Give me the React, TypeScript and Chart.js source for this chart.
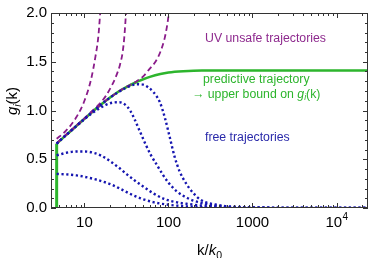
import React, { useEffect, useRef } from "react";
import { Chart, registerables } from "chart.js";

Chart.register(...registerables);

// ---- axes ----
const X_MIN = 4;
const X_MAX = 23700;
const X_TICKS = [10, 100, 1000, 10000];
const Y_MIN = 0;
const Y_MAX = 2;
const Y_TICKS = [0, 0.5, 1, 1.5, 2];

// ---- data: k/k0 and g_i(k) ----
const startK = [4.67, 4.67];
const startG = [0, 0.66];

const predictiveK = [4.67, 6, 8, 10, 12, 15, 20, 25, 30, 40, 50, 60, 80, 100, 150, 250, 23700];
const predictiveG = [0.66, 0.745, 0.84, 0.915, 0.975, 1.045, 1.13, 1.19, 1.23, 1.285, 1.32, 1.345, 1.375, 1.39, 1.403, 1.41, 1.41];

const unsafe1K = [4.67, 6, 8, 10, 12, 13.5, 14.6, 15.4, 16];
const unsafe1G = [0.71, 0.79, 0.93, 1.1, 1.32, 1.55, 1.75, 2.0, 2.2];

const unsafe2K = [4.67, 6, 8, 10, 12, 15, 18, 21, 24, 26.5, 28.5, 29.8, 31, 31.6];
const unsafe2G = [0.665, 0.75, 0.845, 0.92, 0.985, 1.065, 1.15, 1.25, 1.36, 1.47, 1.6, 1.75, 1.96, 2.1];

const unsafe3K = [4.67, 6, 8, 10, 12, 15, 20, 25, 30, 40, 50, 60, 70, 80, 90, 95, 100, 103];
const unsafe3G = [0.66, 0.745, 0.84, 0.915, 0.975, 1.045, 1.13, 1.19, 1.232, 1.29, 1.35, 1.43, 1.5, 1.6, 1.74, 1.84, 1.97, 2.1];

const free1K = [4.67, 6, 8, 10, 14, 21, 27, 36, 50, 66, 100, 164, 300, 1000, 23700];
const free1G = [0.35, 0.345, 0.335, 0.32, 0.29, 0.24, 0.195, 0.14, 0.09, 0.06, 0.033, 0.017, 0.006, 0.001, 0];

const free2K = [4.67, 6, 8, 10, 13, 16, 21, 26, 32, 40, 50, 66, 91, 130, 164, 250, 410, 1000, 23700];
const free2G = [0.54, 0.565, 0.58, 0.58, 0.565, 0.535, 0.47, 0.41, 0.345, 0.28, 0.22, 0.15, 0.09, 0.056, 0.043, 0.025, 0.012, 0.003, 0];

const free3K = [4.67, 6, 8, 10, 12, 15, 18, 22, 26, 30, 35, 40, 46, 53, 62, 73, 86, 100, 126, 170, 238, 400, 1000, 23700];
const free3G = [0.66, 0.745, 0.84, 0.91, 0.965, 1.02, 1.058, 1.082, 1.085, 1.065, 1.0, 0.9, 0.78, 0.66, 0.54, 0.44, 0.34, 0.26, 0.17, 0.1, 0.055, 0.02, 0.003, 0];

const free4K = [4.67, 6, 8, 10, 12, 15, 20, 25, 30, 35, 42, 50, 58, 66, 79, 91, 104, 118, 135, 160, 190, 240, 400, 800, 2000, 23700];
const free4G = [0.66, 0.745, 0.84, 0.915, 0.975, 1.045, 1.13, 1.185, 1.225, 1.252, 1.27, 1.265, 1.235, 1.19, 1.085, 0.92, 0.72, 0.53, 0.38, 0.26, 0.17, 0.085, 0.03, 0.008, 0.001, 0];

// ---- styling ----
const FONT = '"Liberation Sans", Arial, Helvetica, sans-serif';
const GREEN = "#2db52d";
const PURPLE = "#8a1c8a";
const BLUE = "#1515b0";
const TEXT_PURPLE = "#8e2a8e";
const TEXT_BLUE = "#2a2aaa";

const pts = (ks: number[], gs: number[]) => ks.map((k, i) => ({ x: k, y: gs[i] }));

function drawRich(ctx: any, parts: any[], x: number, y: number, align: string) {
  let total = 0;
  for (const p of parts) {
    ctx.font = `${p.italic ? "italic " : ""}${p.size}px ${FONT}`;
    p.w = ctx.measureText(p.t).width;
    total += p.w;
  }
  let cx = align === "center" ? x - total / 2 : x;
  ctx.textAlign = "left";
  for (const p of parts) {
    ctx.font = `${p.italic ? "italic " : ""}${p.size}px ${FONT}`;
    ctx.fillText(p.t, cx, y + (p.dy || 0));
    cx += p.w;
  }
}

const decorPlugin = {
  id: "decor",
  afterDatasetsDraw(chart: any) {
    const ctx = chart.ctx;
    const { left, right, top, bottom } = chart.chartArea;
    const xs = chart.scales.x;
    const ys = chart.scales.y;
    ctx.save();
    // frame
    ctx.strokeStyle = "#333";
    ctx.lineWidth = 1;
    ctx.strokeRect(left + 0.5, top + 0.5, right - left - 1, bottom - top - 1);
    // x ticks (log)
    ctx.beginPath();
    for (let d = 0; d <= 5; d++) {
      for (let m = 1; m <= 9; m++) {
        const v = m * Math.pow(10, d);
        if (v < X_MIN || v > X_MAX) continue;
        const px = Math.round(xs.getPixelForValue(v)) + 0.5;
        const len = m === 1 ? 5 : 3;
        ctx.moveTo(px, bottom);
        ctx.lineTo(px, bottom - len);
        ctx.moveTo(px, top);
        ctx.lineTo(px, top + len);
      }
    }
    // y ticks
    for (let i = 0; i <= 20; i++) {
      const v = i * 0.1;
      const py = Math.round(ys.getPixelForValue(v)) + 0.5;
      const len = i % 5 === 0 ? 5 : 3;
      ctx.moveTo(left, py);
      ctx.lineTo(left + len, py);
      ctx.moveTo(right, py);
      ctx.lineTo(right - len, py);
    }
    ctx.stroke();

    // 10^4 tick label
    ctx.fillStyle = "#000";
    ctx.textBaseline = "middle";
    const p4 = xs.getPixelForValue(10000);
    ctx.font = `15px ${FONT}`;
    const w10 = ctx.measureText("10").width;
    ctx.font = `10px ${FONT}`;
    const w4 = ctx.measureText("4").width;
    const sx = p4 - (w10 + w4) / 2;
    ctx.textAlign = "left";
    ctx.font = `15px ${FONT}`;
    ctx.fillText("10", sx, 223);
    ctx.font = `10px ${FONT}`;
    ctx.fillText("4", sx + w10 + 0.5, 217);

    // annotations
    ctx.textBaseline = "middle";
    ctx.fillStyle = TEXT_PURPLE;
    drawRich(ctx, [{ t: "UV unsafe trajectories", size: 12.3 }], 205, 39, "left");
    ctx.fillStyle = GREEN;
    drawRich(ctx, [{ t: "predictive trajectory", size: 12.3 }], 203, 80, "left");
    drawRich(
      ctx,
      [
        { t: "\u2192 upper bound on ", size: 12.3 },
        { t: "g", size: 12.3, italic: true },
        { t: "i", size: 8.6, italic: true, dy: 3 },
        { t: "(k)", size: 12.3 },
      ],
      192,
      95,
      "left"
    );
    ctx.fillStyle = TEXT_BLUE;
    drawRich(ctx, [{ t: "free trajectories", size: 12.3 }], 205, 138, "left");

    // axis titles
    ctx.fillStyle = "#000";
    ctx.textBaseline = "alphabetic";
    drawRich(
      ctx,
      [
        { t: "k/", size: 15 },
        { t: "k", size: 15, italic: true },
        { t: "0", size: 10.5, dy: 3.5 },
      ],
      (left + right) / 2,
      255,
      "center"
    );
    ctx.save();
    ctx.translate(17, 101);
    ctx.rotate(-Math.PI / 2);
    drawRich(
      ctx,
      [
        { t: "g", size: 15, italic: true },
        { t: "i", size: 10.5, italic: true, dy: 3.5 },
        { t: "(k)", size: 15 },
      ],
      0,
      0,
      "center"
    );
    ctx.restore();
    ctx.restore();
  },
};

export default function App() {
  const ref = useRef<HTMLCanvasElement | null>(null);
  useEffect(() => {
    if (!ref.current) return;
    const green = { borderColor: GREEN, borderWidth: 2.6, order: 2 };
    const purple = { borderColor: PURPLE, borderWidth: 1.8, borderDash: [5.5, 3.5], order: 1 };
    const blue = { borderColor: BLUE, borderWidth: 2.4, borderDash: [2.2, 2.6], order: 0 };
    const common = { pointRadius: 0, fill: false, cubicInterpolationMode: "monotone" };
    const chart = new Chart(ref.current, {
      type: "line",
      data: {
        datasets: [
          { ...common, ...green, borderWidth: 3, data: pts(startK, startG), cubicInterpolationMode: "default", tension: 0 },
          { ...common, ...green, data: pts(predictiveK, predictiveG) },
          { ...common, ...purple, data: pts(unsafe1K, unsafe1G) },
          { ...common, ...purple, data: pts(unsafe2K, unsafe2G) },
          { ...common, ...purple, data: pts(unsafe3K, unsafe3G) },
          { ...common, ...blue, data: pts(free1K, free1G) },
          { ...common, ...blue, data: pts(free2K, free2G) },
          { ...common, ...blue, data: pts(free3K, free3G) },
          { ...common, ...blue, data: pts(free4K, free4G) },
        ] as any,
      },
      options: {
        animation: false,
        responsive: false,
        events: [],
        layout: { padding: { top: 9, right: 6, left: 0, bottom: 0 } },
        plugins: { legend: { display: false }, tooltip: { enabled: false } },
        scales: {
          x: {
            type: "logarithmic",
            min: X_MIN,
            max: X_MAX,
            border: { display: false },
            grid: { display: false, drawTicks: false },
            afterBuildTicks: (s: any) => {
              s.ticks = X_TICKS.map((v) => ({ value: v }));
            },
            afterFit: (s: any) => {
              s.height = 50;
            },
            ticks: {
              autoSkip: false,
              maxRotation: 0,
              padding: 6,
              color: "#000",
              font: { family: FONT, size: 15 },
              callback: (v: any) => (Number(v) >= 10000 ? "" : String(v)),
            },
          },
          y: {
            type: "linear",
            min: Y_MIN,
            max: Y_MAX,
            border: { display: false },
            grid: { display: false, drawTicks: false },
            afterBuildTicks: (s: any) => {
              s.ticks = Y_TICKS.map((v) => ({ value: v }));
            },
            afterFit: (s: any) => {
              s.width = 51;
            },
            ticks: {
              padding: 4,
              color: "#000",
              font: { family: FONT, size: 15 },
              callback: (v: any) => Number(v).toFixed(1),
            },
          },
        },
      } as any,
      plugins: [decorPlugin],
    });
    return () => chart.destroy();
  }, []);
  return (
    <div style={{ position: "fixed", left: 0, top: 0, width: 374, height: 258, background: "#fff" }}>
      <canvas ref={ref} width={374} height={258} style={{ display: "block" }} />
    </div>
  );
}
